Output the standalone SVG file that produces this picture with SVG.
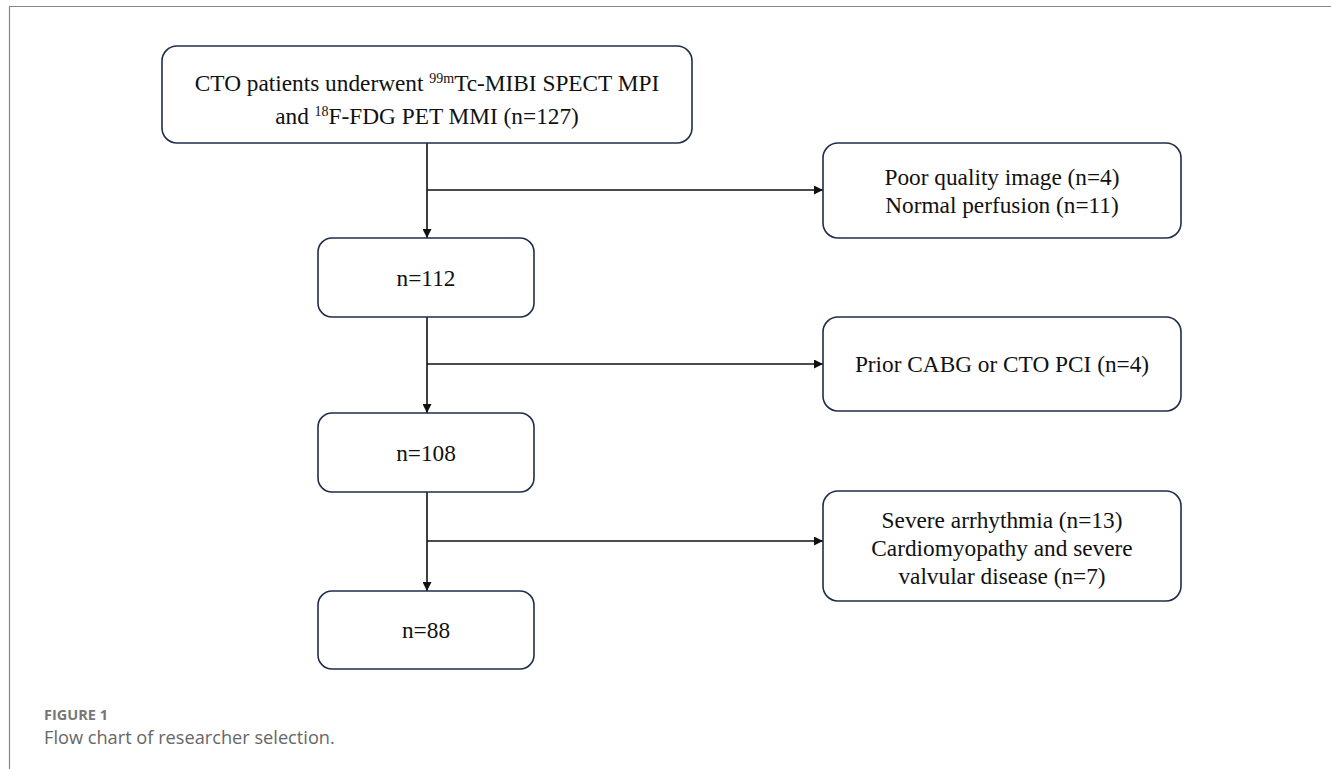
<svg xmlns="http://www.w3.org/2000/svg" width="1331" height="769" viewBox="0 0 1331 769">
<style>
.box{fill:#fff;stroke:#1f2d4a;stroke-width:1.6}
.t{font-family:"Liberation Serif","Times New Roman",serif;font-size:23.3px;fill:#111;text-anchor:middle}
.sup{font-size:14px}
.ln{stroke:#111;stroke-width:1.6;fill:none}
.cap1{font-family:"Open Sans","Liberation Sans",sans-serif;font-size:14.5px;font-weight:bold;fill:#777}
.cap2{font-family:"Open Sans","Liberation Sans",sans-serif;font-size:18.2px;fill:#666}
</style>
<defs>
<marker id="arr" viewBox="0 0 10 10" refX="10" refY="5" markerWidth="9" markerHeight="9" markerUnits="userSpaceOnUse" orient="auto">
<path d="M0,0 L10,5 L0,10 z" fill="#111"/>
</marker>
</defs>
<rect width="1331" height="769" fill="#fff"/>
<path d="M9.5,769 V6.5 H1331" fill="none" stroke="#888" stroke-width="1.2"/>
<g id="connectors">
<path class="ln" d="M427,143 V238" marker-end="url(#arr)"/>
<path class="ln" d="M427,190 H823" marker-end="url(#arr)"/>
<path class="ln" d="M427,317 V413" marker-end="url(#arr)"/>
<path class="ln" d="M427,364 H823" marker-end="url(#arr)"/>
<path class="ln" d="M427,492 V591" marker-end="url(#arr)"/>
<path class="ln" d="M427,541 H823" marker-end="url(#arr)"/>
</g>
<g id="n1">
<rect class="box" x="162" y="46" width="530" height="97" rx="15"/>
<text class="t" x="427" y="91">CTO patients underwent <tspan class="sup" dy="-8">99m</tspan><tspan dy="8">Tc-MIBI SPECT MPI</tspan></text>
<text class="t" x="427" y="124">and <tspan class="sup" dy="-8">18</tspan><tspan dy="8">F-FDG PET MMI (n=127)</tspan></text>
</g>
<g id="n2">
<rect class="box" x="318" y="238" width="216" height="79" rx="14"/>
<text class="t" x="426" y="286">n=112</text>
</g>
<g id="n3">
<rect class="box" x="318" y="413" width="216" height="79" rx="14"/>
<text class="t" x="426" y="461">n=108</text>
</g>
<g id="n4">
<rect class="box" x="318" y="591" width="216" height="78" rx="14"/>
<text class="t" x="426" y="638">n=88</text>
</g>
<g id="e1">
<rect class="box" x="823" y="143" width="358" height="95" rx="15"/>
<text class="t" x="1002" y="185">Poor quality image (n=4)</text>
<text class="t" x="1002" y="213">Normal perfusion (n=11)</text>
</g>
<g id="e2">
<rect class="box" x="823" y="317" width="358" height="94" rx="15"/>
<text class="t" x="1002" y="372">Prior CABG or CTO PCI (n=4)</text>
</g>
<g id="e3">
<rect class="box" x="823" y="491" width="358" height="110" rx="15"/>
<text class="t" x="1002" y="528">Severe arrhythmia (n=13)</text>
<text class="t" x="1002" y="556">Cardiomyopathy and severe</text>
<text class="t" x="1002" y="584">valvular disease (n=7)</text>
</g>
<text class="cap1" x="44" y="720">FIGURE 1</text>
<text class="cap2" x="44" y="744">Flow chart of researcher selection.</text>
</svg>
